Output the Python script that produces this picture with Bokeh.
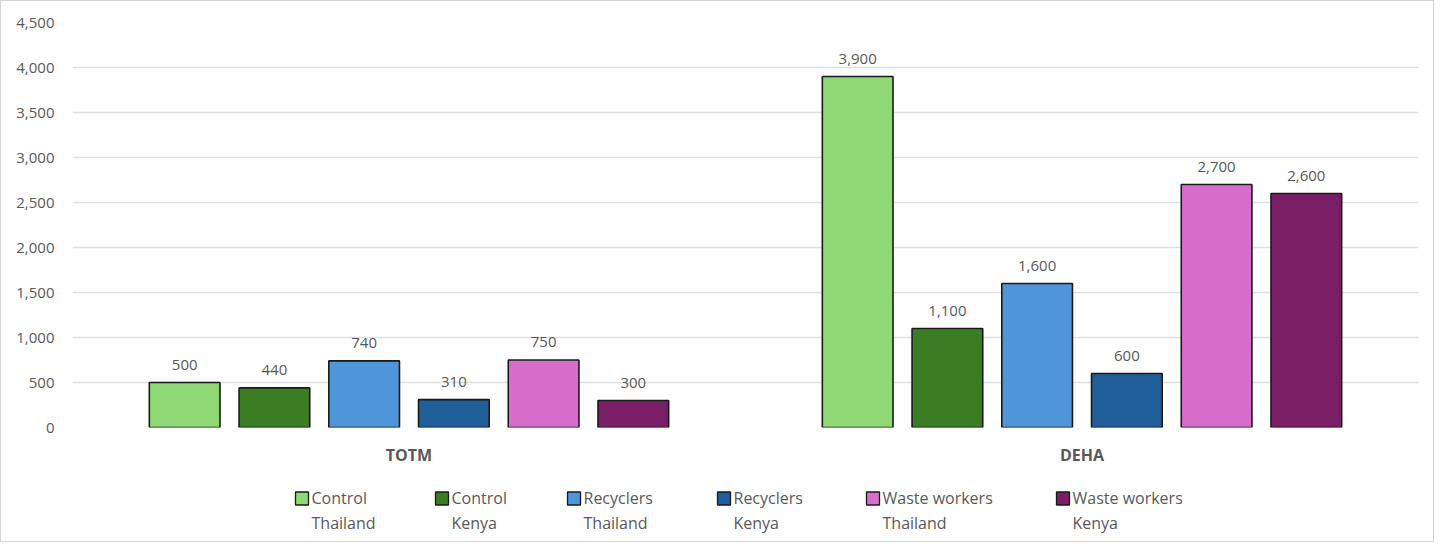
from bokeh.plotting import figure
from bokeh.layouts import column
from bokeh.models import ColumnDataSource, NumeralTickFormatter, FactorRange, Range1d, SingleIntervalTicker
from bokeh.transform import dodge
from bokeh.embed import file_html
from bokeh.resources import INLINE
from bokeh.core.properties import value

groups = ["TOTM", "DEHA"]
series_labels = ["Control\nThailand", "Control\nKenya", "Recyclers\nThailand",
                 "Recyclers\nKenya", "Waste workers\nThailand", "Waste workers\nKenya"]
control_thailand = [500, 3900]
control_kenya = [440, 1100]
recyclers_thailand = [740, 1600]
recyclers_kenya = [310, 600]
waste_workers_thailand = [750, 2700]
waste_workers_kenya = [300, 2600]
series_values = [control_thailand, control_kenya, recyclers_thailand,
                 recyclers_kenya, waste_workers_thailand, waste_workers_kenya]
colors = ["#8ED973", "#3B7D23", "#4E95D9", "#215F9A", "#D86ECC", "#7A1E66"]

FONT = "Open Sans"
TXT = "#595959"
W = 1432
FRAME_L, FRAME_R = 71, 15

# ---------------- main chart ----------------
p = figure(x_range=FactorRange(*groups, range_padding=0), y_range=Range1d(0, 4500),
           width=W, height=480, output_backend="svg", toolbar_location=None,
           min_border_left=FRAME_L, min_border_right=FRAME_R, min_border_top=21,
           min_border_bottom=54)
p.outline_line_color = None
p.xgrid.grid_line_color = None
p.ygrid.grid_line_color = "#e0e0e0"
p.ygrid.grid_line_width = 1.5

p.yaxis.ticker = SingleIntervalTicker(interval=500)
p.yaxis.formatter = NumeralTickFormatter(format="0,0")
p.yaxis.axis_line_color = None
p.yaxis.major_tick_line_color = None
p.yaxis.minor_tick_line_color = None
p.yaxis.major_label_standoff = 12
p.yaxis.major_label_text_font = FONT
p.yaxis.major_label_text_font_size = "15px"
p.yaxis.major_label_text_color = TXT

p.xaxis.axis_line_color = None
p.xaxis.major_tick_line_color = None
p.xaxis.minor_tick_line_color = None
p.xaxis.major_label_standoff = 10
p.xaxis.major_label_text_font = FONT
p.xaxis.major_label_text_font_size = "16px"
p.xaxis.major_label_text_font_style = "bold"
p.xaxis.major_label_text_color = TXT

n = len(series_values)
step = 2 / 15
for i, (vals, col) in enumerate(zip(series_values, colors)):
    off = (i - (n - 1) / 2) * step
    src = ColumnDataSource(dict(group=groups, val=vals, txt=[f"{v:,}" for v in vals]))
    p.vbar(x=dodge("group", off, range=p.x_range), top="val", width=0.105, source=src,
           fill_color=col, line_color="#1a1a1a", line_width=1.6)
    p.text(x=dodge("group", off, range=p.x_range), y="val", text="txt", source=src,
           text_align="center", text_baseline="bottom", y_offset=-13,
           text_font=value(FONT), text_font_size="15px", text_color=TXT)

# ---------------- legend strip (pixel-unit coordinates) ----------------
LEG_H = 60
lg = figure(width=W, height=LEG_H, x_range=Range1d(0, W - FRAME_L - FRAME_R),
            y_range=Range1d(LEG_H, 0), output_backend="svg", toolbar_location=None,
            min_border_left=FRAME_L, min_border_right=FRAME_R, min_border_top=0,
            min_border_bottom=0, x_axis_location=None, y_axis_location=None)
lg.outline_line_color = None
lg.grid.visible = False

legend_left = [223, 363, 495, 645, 794, 984]
line1 = [s.split("\n")[0] for s in series_labels]
line2 = [s.split("\n")[1] for s in series_labels]
leg_src = ColumnDataSource(dict(
    x=[v + 6.5 for v in legend_left], tx=[v + 16 for v in legend_left],
    y1=[17] * n, t1=[16] * n, t2=[41] * n,
    color=colors, line1=line1, line2=line2))
lg.rect(x="x", y="y1", width=13, height=13, source=leg_src,
        fill_color="color", line_color="#1a1a1a", line_width=1.3)
lg.text(x="tx", y="t1", text="line1", source=leg_src, text_align="left",
        text_baseline="middle", text_font=value(FONT), text_font_size="16px", text_color=TXT)
lg.text(x="tx", y="t2", text="line2", source=leg_src, text_align="left",
        text_baseline="middle", text_font=value(FONT), text_font_size="16px", text_color=TXT)

layout = column(p, lg, spacing=0)
layout.styles = {"border": "1px solid #d4d4d4"}

open("out.html", "w").write(file_html(layout, INLINE))
